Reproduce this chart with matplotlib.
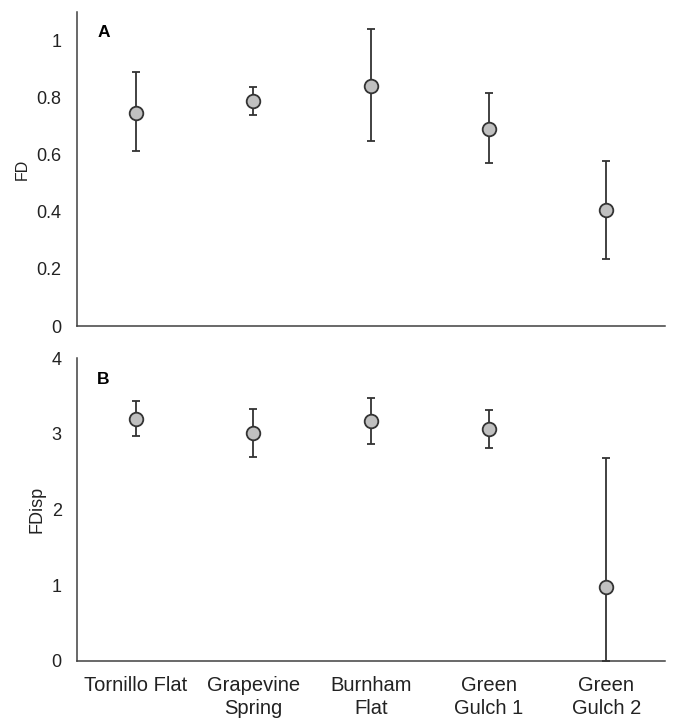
import numpy as np
import matplotlib.pyplot as plt

plt.rcParams['font.family'] = ['Liberation Sans', 'DejaVu Sans']

sites = ["Tornillo Flat", "Grapevine\nSpring", "Burnham\nFlat", "Green\nGulch 1", "Green\nGulch 2"]

# panel A: FD mean, lower and upper error bar ends
fd = [0.748, 0.787, 0.842, 0.691, 0.407]
fd_lo = [0.612, 0.739, 0.650, 0.570, 0.235]
fd_hi = [0.889, 0.839, 1.040, 0.815, 0.578]

# panel B: FDisp
fdisp = [3.20, 3.01, 3.17, 3.06, 0.98]
fdisp_lo = [2.975, 2.70, 2.87, 2.82, 0.0]
fdisp_hi = [3.44, 3.325, 3.475, 3.316, 2.683]

fig = plt.figure(figsize=(6.73, 7.23), dpi=100)
ax1 = fig.add_axes([0.1144, 0.549, 0.8737, 0.4343])
ax2 = fig.add_axes([0.1144, 0.0862, 0.8737, 0.4182])

x = np.arange(len(sites))
edge = "#333333"


def panel(ax, y, lo, hi):
    y = np.array(y)
    err = [y - np.array(lo), np.array(hi) - y]
    ax.errorbar(x, y, yerr=err, fmt="o", ms=9.8, mfc="#c0c0c0", mec=edge,
                mew=1.3, ecolor=edge, elinewidth=1.3, capsize=3, capthick=1.3,
                zorder=3)
    for s in ["top", "right"]:
        ax.spines[s].set_visible(False)
    for s in ["left", "bottom"]:
        ax.spines[s].set_color("#404040")
        ax.spines[s].set_linewidth(1.1)
    ax.set_xlim(-0.5, 4.5)
    ax.tick_params(axis="y", length=0, pad=11, labelsize=13, colors="#222222")
    ax.tick_params(axis="x", length=0, pad=11, labelsize=14.5, colors="#222222")


panel(ax1, fd, fd_lo, fd_hi)
ax1.set_ylim(0, 1.1)
ax1.set_yticks([0, 0.2, 0.4, 0.6, 0.8, 1])
ax1.set_yticklabels(["0", "0.2", "0.4", "0.6", "0.8", "1"])
ax1.set_xticks([])
ax1.set_ylabel("FD", fontsize=11.5, color="#222222")
ax1.yaxis.set_label_coords(-0.08, 0.5)
ax1.text(0.045, 0.935, "A", transform=ax1.transAxes, fontsize=12.5,
         fontweight="bold", ha="center", va="center")

panel(ax2, fdisp, fdisp_lo, fdisp_hi)
ax2.set_ylim(0, 4)
ax2.set_yticks([0, 1, 2, 3, 4])
ax2.set_xticks(x)
ax2.set_xticklabels(sites, linespacing=1.3)
ax2.set_ylabel("FDisp", fontsize=13, color="#222222")
ax2.yaxis.set_label_coords(-0.054, 0.5)
ax2.text(0.045, 0.93, "B", transform=ax2.transAxes, fontsize=12.5,
         fontweight="bold", ha="center", va="center")

fig.savefig("out.png", dpi=100)
